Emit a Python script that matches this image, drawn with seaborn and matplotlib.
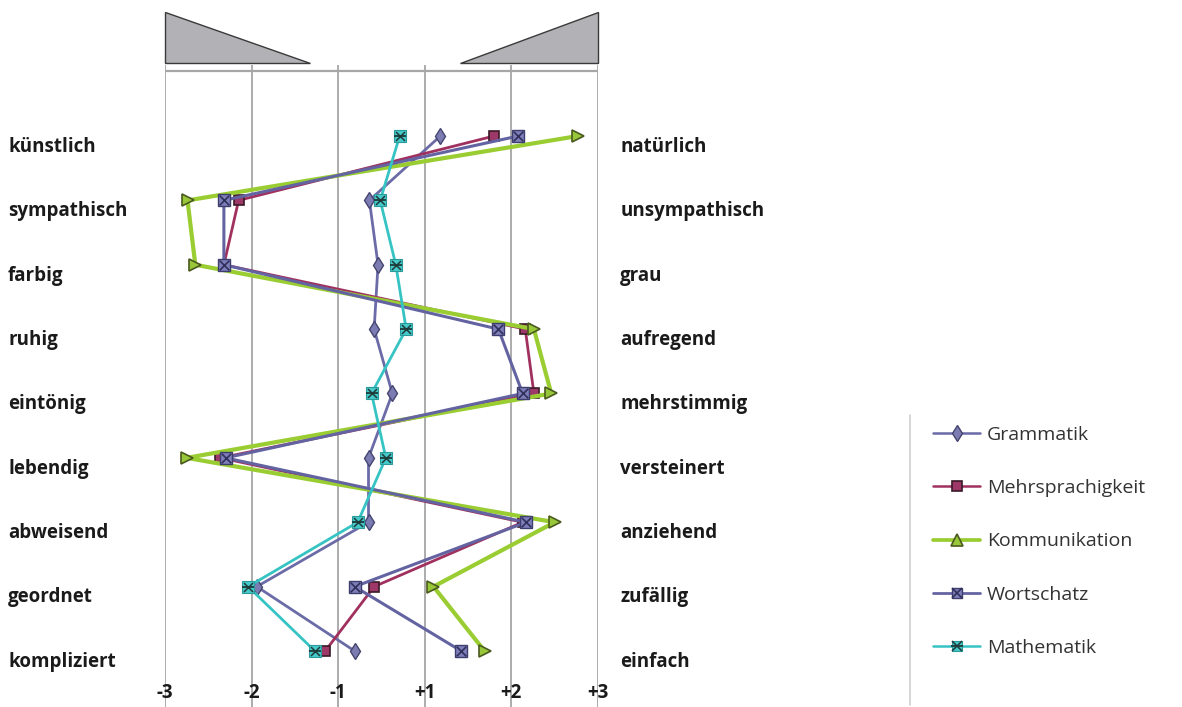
import numpy as np
import pandas as pd
import matplotlib
matplotlib.use("Agg")
import matplotlib.pyplot as plt
import matplotlib.transforms as mtransforms
from matplotlib.patches import Polygon
from matplotlib.lines import Line2D
import seaborn as sns

# Polarity profile: word pairs (left pole / right pole)
links = ["künstlich", "sympathisch", "farbig", "ruhig", "eintönig",
         "lebendig", "abweisend", "geordnet", "kompliziert"]
rechts = ["natürlich", "unsympathisch", "grau", "aufregend", "mehrstimmig",
          "versteinert", "anziehend", "zufällig", "einfach"]

# Mean ratings per school subject on the -3 ... +3 scale
grammatik = [1.18, -0.28, -0.08, -0.17, 0.25, -0.30, -0.30, -1.94, -0.62]
mehrsprachigkeit = [1.80, -2.15, -2.32, 2.16, 2.26, -2.36, 2.13, -0.17, -1.15]
kommunikation = [2.77, -2.74, -2.65, 2.26, 2.46, -2.75, 2.50, 1.10, 1.69]
wortschatz = [2.08, -2.32, -2.32, 1.85, 2.13, -2.30, 2.17, -0.62, 1.42]
mathematik = [0.42, -0.03, 0.33, 0.57, -0.23, 0.10, -0.55, -2.04, -1.27]

skala = [-3, -2, -1, 1, 2, 3]
skala_text = ["-3", "-2", "-1", "+1", "+2", "+3"]

faecher = {
    "Grammatik": grammatik,
    "Mehrsprachigkeit": mehrsprachigkeit,
    "Kommunikation": kommunikation,
    "Wortschatz": wortschatz,
    "Mathematik": mathematik,
}

df = pd.concat(
    [pd.DataFrame({"Fach": k, "Zeile": np.arange(len(v)), "Wert": v}) for k, v in faecher.items()],
    ignore_index=True,
)

sns.set_theme(style="white")
plt.rcParams["font.family"] = ["Open Sans", "DejaVu Sans"]

W, H = 1182, 707
fig = plt.figure(figsize=(W / 100, H / 100), dpi=100)
ax = fig.add_axes([165 / W, 0, 433 / W, 642 / H])


# The scale has no zero: -1 and +1 are one step apart
def vorwaerts(v):
    v = np.asarray(v, dtype=float)
    return np.where(v <= -1, v + 3, np.where(v >= 1, v + 2, 2 + (v + 1) / 2))


def rueckwaerts(p):
    p = np.asarray(p, dtype=float)
    return np.where(p <= 2, p - 3, np.where(p >= 3, p - 2, 2 * (p - 2) - 1))


ax.set_xscale("function", functions=(vorwaerts, rueckwaerts))
ax.set_xlim(-3, 3)
ax.set_ylim(8.87, -1.103)

stil = {
    "Grammatik": dict(color="#6B6BA8", lw=2.0, marker="d", ms=8.5, mfc="#7C7CB2", mec="#45456F", mew=1.0),
    "Mehrsprachigkeit": dict(color="#A0315F", lw=2.0, marker="s", ms=7.5, mfc="#9E3868", mec="#3A1A28", mew=1.2),
    "Kommunikation": dict(color="#9ACD32", lw=3.0, marker=">", ms=9, mfc="#98C83A", mec="#4A5A1E", mew=1.2),
    "Wortschatz": dict(color="#6363A2", lw=2.2, marker="s", ms=8, mfc="#7E7EBA", mec="#3E3E6E", mew=1.0),
    "Mathematik": dict(color="#36C3C3", lw=2.0, marker="s", ms=8, mfc="#45CACA", mec="#2A9A9A", mew=0.8),
}
overlay = {
    "Wortschatz": [dict(marker="x", s=48, c="#30305A", linewidths=1.2)],
    "Mathematik": [dict(marker="x", s=42, c="#1E3A3A", linewidths=1.1),
                   dict(marker="_", s=64, c="#1E3A3A", linewidths=1.3)],
}

for fach in faecher:
    d = df[df["Fach"] == fach]
    st = stil[fach]
    sns.lineplot(data=d, x="Wert", y="Zeile", orient="y", sort=False, estimator=None,
                 ax=ax, legend=False, color=st["color"], lw=st["lw"],
                 marker=st["marker"], markersize=st["ms"], markerfacecolor=st["mfc"],
                 markeredgecolor=st["mec"], markeredgewidth=st["mew"])
    for ov in overlay.get(fach, []):
        ax.scatter(d["Wert"], d["Zeile"], zorder=5, **ov)

# Grid and frame
for s in ax.spines.values():
    s.set_visible(False)
ax.set_xticks(skala)
ax.set_xticklabels(skala_text)
ax.grid(False)
for v in skala:
    ax.axvline(v, color="#A6A6A6", lw=1.3, zorder=0)
ax.axhline(-1.01, color="#A6A6A6", lw=1.6, zorder=0)
ax.tick_params(axis="x", length=0, pad=-17, labelsize=13.5, labelcolor="#1A1A1A")
for t in ax.get_xticklabels():
    t.set_fontweight("bold")
ax.set_xlabel("")
ax.set_ylabel("")

# Pole labels, set slightly below each profile row
tiefer = mtransforms.ScaledTranslation(0, -6 / 72, fig.dpi_scale_trans)
ax.set_yticks(range(len(links)))
ax.set_yticklabels(links)
ax.tick_params(axis="y", length=0, pad=113, labelsize=13.5, labelcolor="#1A1A1A")
for t in ax.get_yticklabels():
    t.set_horizontalalignment("left")
    t.set_fontweight("bold")
    t.set_transform(t.get_transform() + tiefer)

ax2 = ax.twinx()
ax2.set_ylim(ax.get_ylim())
ax2.set_yticks(range(len(rechts)))
ax2.set_yticklabels(rechts)
ax2.tick_params(axis="y", length=0, pad=16, labelsize=13.5, labelcolor="#1A1A1A")
for t in ax2.get_yticklabels():
    t.set_fontweight("bold")
    t.set_transform(t.get_transform() + tiefer)
for s in ax2.spines.values():
    s.set_visible(False)
ax2.grid(False)

# Wedges above the scale
tr = mtransforms.blended_transform_factory(ax.transData, fig.transFigure)
keil_links = Polygon([(-3, 1 - 12 / H), (-3, 1 - 63 / H), (-1.33, 1 - 63 / H)],
                     closed=True, transform=tr, facecolor="#B2B2B6", edgecolor="#3A3A3A",
                     lw=1.0, clip_on=False)
keil_rechts = Polygon([(1.41, 1 - 63 / H), (3, 1 - 63 / H), (3, 1 - 12 / H)],
                      closed=True, transform=tr, facecolor="#B2B2B6", edgecolor="#3A3A3A",
                      lw=1.0, clip_on=False)
fig.add_artist(keil_links)
fig.add_artist(keil_rechts)

# Legend
handles = []
for fach in faecher:
    st = stil[fach]
    mk = "^" if fach == "Kommunikation" else st["marker"]
    base = Line2D([], [], color=st["color"], lw=st["lw"] * 0.9, marker=mk, ms=st["ms"] * 0.95,
                  mfc=st["mfc"], mec=st["mec"], mew=st["mew"])
    extra = [Line2D([], [], ls="none", marker=o["marker"], ms=np.sqrt(o["s"]),
                    color=o["c"], mew=o["linewidths"]) for o in overlay.get(fach, [])]
    handles.append(tuple([base] + extra) if extra else base)

fig.legend(handles, list(faecher), loc="upper left", bbox_to_anchor=(923 / W, 1 - 416 / H),
           frameon=False, fontsize=14, labelspacing=1.82, handlelength=2.45,
           handletextpad=0.35, borderpad=0, labelcolor="#333333")
fig.add_artist(Line2D([910 / W, 910 / W], [1 - 415 / H, 1 - 705 / H],
                      transform=fig.transFigure, color="#D0D0D0", lw=1.2))

fig.savefig("out.png", dpi=100)
